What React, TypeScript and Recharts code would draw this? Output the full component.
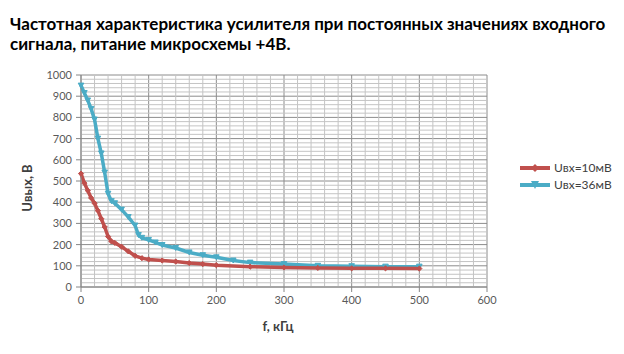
import React from 'react';
import { LineChart, Line, XAxis, YAxis, CartesianGrid, ReferenceLine, Legend } from 'recharts';

const title1 = 'Частотная характеристика усилителя при постоянных значениях входного';
const title2 = 'сигнала, питание микросхемы +4В.';
const xLabel = 'f, кГц';
const yLabel = 'Uвых, В';
const seriesNames = ['Uвх=10мВ', 'Uвх=36мВ'];

const fRed = [0, 5, 10, 15, 20, 25, 30, 35, 40, 45, 50, 60, 70, 80, 90, 100, 120, 140, 160, 180, 200, 250, 300, 350, 400, 450, 500];
const uRed = [535, 490, 455, 420, 395, 360, 322, 283, 238, 215, 208, 190, 168, 147, 136, 130, 125, 120, 113, 108, 103, 96, 92, 90, 88, 88, 87];

const fBlue = [0, 5, 10, 15, 20, 25, 30, 35, 40, 45, 50, 60, 70, 80, 85, 90, 100, 110, 120, 140, 160, 180, 200, 225, 250, 300, 350, 400, 450, 500];
const uBlue = [950, 915, 880, 840, 790, 700, 630, 540, 440, 405, 395, 365, 330, 290, 245, 232, 222, 210, 198, 184, 163, 150, 140, 125, 115, 108, 100, 98, 96, 96];

const xTicks = [0, 100, 200, 300, 400, 500, 600];
const yTicks = [0, 100, 200, 300, 400, 500, 600, 700, 800, 900, 1000];
const xMinor = Array.from({ length: 31 }, (_, i) => i * 20).filter((v) => v % 100 !== 0);
const yMinor = Array.from({ length: 51 }, (_, i) => i * 20).filter((v) => v % 100 !== 0);

const redData = fRed.map((f, i) => ({ f, u: uRed[i] }));
const blueData = fBlue.map((f, i) => ({ f, u: uBlue[i] }));

const RED = '#C0504D';
const BLUE = '#4BACC6';
const FONT = 'Lato, "Open Sans", sans-serif';

const Diamond = (props: any) => {
  const { cx, cy } = props;
  if (cx == null || cy == null) return null;
  const r = 2.6;
  return <path d={`M${cx},${cy - r}L${cx + r},${cy}L${cx},${cy + r}L${cx - r},${cy}Z`} fill={RED} stroke={RED} strokeWidth={1} />;
};

const Tri = (props: any) => {
  const { cx, cy } = props;
  if (cx == null || cy == null) return null;
  const w = 2.8, h = 2.5;
  return <path d={`M${cx - w},${cy - h}L${cx + w},${cy - h}L${cx},${cy + h}Z`} fill={BLUE} stroke={BLUE} strokeWidth={1} />;
};

const LegendContent = () => (
  <div style={{ fontFamily: FONT, fontSize: 12, color: '#404040' }}>
    {seriesNames.map((name, i) => (
      <div key={name} style={{ display: 'flex', alignItems: 'center', height: 17 }}>
        <svg width={32} height={10} style={{ marginRight: 3 }}>
          <line x1={1} y1={5} x2={31} y2={5} stroke={i === 0 ? RED : BLUE} strokeWidth={4} />
          {i === 0 ? (
            <path d="M16,1L20,5L16,9L12,5Z" fill={RED} />
          ) : (
            <path d="M12,1L20,1L16,9Z" fill={BLUE} />
          )}
        </svg>
        <span>{name}</span>
      </div>
    ))}
  </div>
);

export default function App() {
  return (
    <div style={{ position: 'absolute', left: 0, top: 0, width: 624, height: 354, background: '#fff' }}>
      <div
        style={{
          position: 'absolute',
          left: 10,
          top: 14,
          fontFamily: FONT,
          fontWeight: 700,
          fontSize: 17,
          lineHeight: '19.5px',
          color: '#000',
          whiteSpace: 'nowrap',
        }}
      >
        <div>{title1}</div>
        <div>{title2}</div>
      </div>
      <LineChart width={624} height={354} margin={{ top: 75, right: 137, bottom: 0, left: 0 }} style={{ fontFamily: FONT }}>
        {xMinor.map((v) => (
          <ReferenceLine key={'xm' + v} x={v} stroke="#c4c4c4" strokeWidth={1} />
        ))}
        {yMinor.map((v) => (
          <ReferenceLine key={'ym' + v} y={v} stroke="#c4c4c4" strokeWidth={1} />
        ))}
        <CartesianGrid stroke="#8c8c8c" strokeWidth={1} />
        <XAxis
          type="number"
          dataKey="f"
          domain={[0, 600]}
          ticks={xTicks}
          height={67}
          tickSize={5}
          tickMargin={4}
          axisLine={{ stroke: '#868686' }}
          tickLine={{ stroke: '#868686' }}
          tick={{ fill: '#595959', fontSize: 11 }}
          interval={0}
          label={{
            content: () => (
              <text x={278} y={331} textAnchor="middle" fontFamily={FONT} fontWeight={700} fontSize={13} fill="#404040">
                {xLabel}
              </text>
            ),
          }}
        />
        <YAxis
          type="number"
          domain={[0, 1000]}
          ticks={yTicks}
          width={81}
          tickSize={5}
          tickMargin={4}
          axisLine={{ stroke: '#868686' }}
          tickLine={{ stroke: '#868686' }}
          tick={{ fill: '#595959', fontSize: 11 }}
          interval={0}
          label={{
            content: () => (
              <text
                x={32}
                y={188}
                transform="rotate(-90 32 188)"
                textAnchor="middle"
                fontFamily={FONT}
                fontWeight={700}
                fontSize={13}
                fill="#404040"
              >
                {yLabel}
              </text>
            ),
          }}
        />
        <Line
          data={blueData}
          dataKey="u"
          name={seriesNames[1]}
          type="linear"
          stroke={BLUE}
          strokeWidth={3.5}
          dot={<Tri />}
          activeDot={false}
          isAnimationActive={false}
        />
        <Line
          data={redData}
          dataKey="u"
          name={seriesNames[0]}
          type="linear"
          stroke={RED}
          strokeWidth={3.5}
          dot={<Diamond />}
          activeDot={false}
          isAnimationActive={false}
        />
        <Legend
          layout="vertical"
          align="center"
          verticalAlign="middle"
          wrapperStyle={{ left: 519, top: 159, width: 105 }}
          content={<LegendContent />}
        />
      </LineChart>
    </div>
  );
}
